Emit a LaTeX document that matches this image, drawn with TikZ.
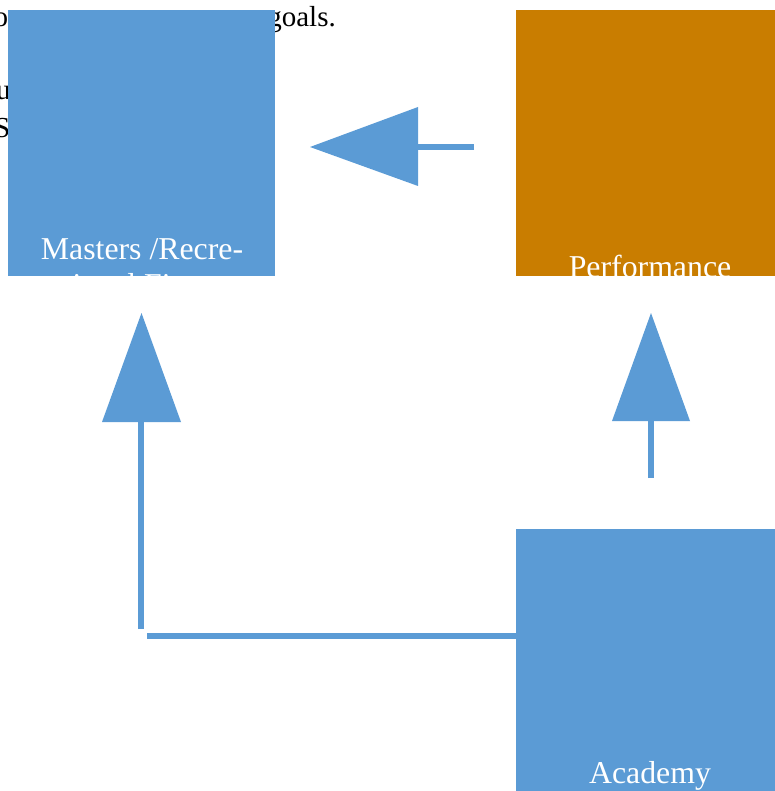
\documentclass[tikz,border=0pt]{standalone}
\usepackage{fontspec}
\setmainfont{Liberation Serif}
\definecolor{boxblue}{HTML}{5B9BD5}
\definecolor{boxorange}{HTML}{C97D00}
\begin{document}
\begin{tikzpicture}[x=1pt,y=-1pt,
  blockbox/.style={draw=none, inner sep=0pt, minimum width=267pt, minimum height=266pt},
  boxlabel/.style={text=white, inner sep=0pt, anchor=base, font=\fontsize{31.8}{37}\selectfont},
  bgtext/.style={text=black, inner sep=0pt, anchor=base west, font=\fontsize{29}{34}\selectfont},
  arrowfill/.style={fill=boxblue, draw=none},
  shaft/.style={draw=boxblue, line width=6pt}]
\useasboundingbox (0,0) rectangle (774,791);
% background text, mostly hidden
\node[bgtext] (t1) at (-6.5,27) {o};
\node[bgtext, anchor=base east] (t2) at (336,27) {goals.};
\node[bgtext] (t3) at (-4,100) {u};
\node[bgtext] (t4) at (-6,138) {S};
% boxes
\node[blockbox, fill=boxblue] (M) at (141.5,143) {};
\node[blockbox, fill=boxorange] (P) at (649.5,143) {};
\node[blockbox, fill=boxblue] (A) at (649.5,662) {};
% labels
\node[boxlabel] (ml1) at (142,259) {Masters /Recre-};
\node[boxlabel] (ml2) at (142,295) {ational Fitness};
\node[boxlabel] (pl) at (650,277) {Performance};
\node[boxlabel] (al) at (650,783) {Academy};
% arrow P -> M
\coordinate (a1tip) at (310,147);
\coordinate (a1top) at (418,107);
\coordinate (a1bot) at (418,186);
\coordinate (a1s) at (474,147);
\coordinate (a1e) at (418,147);
\fill[arrowfill] (a1tip) -- (a1top) -- (a1bot) -- cycle;
\draw[shaft] (a1s) -- (a1e);
% arrow A -> P
\coordinate (a2tip) at (651,313);
\coordinate (a2l) at (612,421);
\coordinate (a2r) at (690,421);
\coordinate (a2s) at (651,478);
\coordinate (a2e) at (651,420);
\fill[arrowfill] (a2tip) -- (a2l) -- (a2r) -- cycle;
\draw[shaft] (a2s) -- (a2e);
% arrow A -> M (elbow)
\coordinate (a3tip) at (141.5,313);
\coordinate (a3l) at (102,422);
\coordinate (a3r) at (181,422);
\coordinate (a3s) at (141,629);
\coordinate (a3e) at (141,421);
\coordinate (a3h) at (147,636);
\fill[arrowfill] (a3tip) -- (a3l) -- (a3r) -- cycle;
\draw[shaft] (a3s) -- (a3e);
\draw[shaft] (a3h) -- (A.west |- a3h);
\end{tikzpicture}
\end{document}
